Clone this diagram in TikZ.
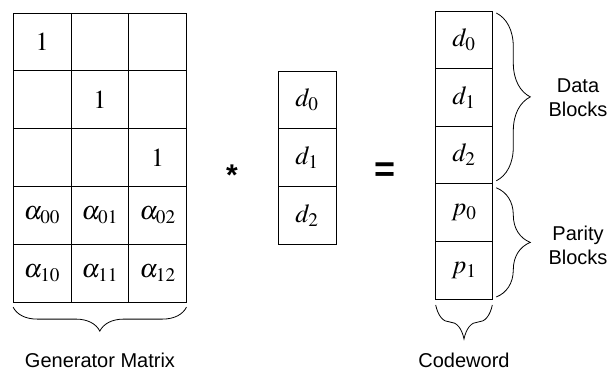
\documentclass[tikz,border=0pt]{standalone}
\usepackage{mathptmx}
\usepackage{fontspec}
\setsansfont{Liberation Sans}
\usepackage{tikz}
\usetikzlibrary{positioning, decorations.pathreplacing}

\begin{document}
\begin{tikzpicture}[x=1pt, y=-1pt, font=\fontsize{26}{30}\selectfont,
  cell/.style={draw, line width=0.8pt, minimum width=57.8pt, minimum height=57.8pt, inner sep=0pt, outer sep=0pt},
  cwcell/.style={cell, minimum width=56.6pt, minimum height=57.6pt},
  lab/.style={font=\sffamily\fontsize{20}{24}\selectfont, align=center, inner sep=0pt},
  op/.style={font=\sffamily\bfseries\fontsize{#1}{#1}\selectfont, inner sep=0pt},
  brc/.style={line width=0.8pt, decorate, decoration={brace, amplitude=#1}}]
  \useasboundingbox (0,0) rectangle (610,371);
  % generator matrix
  \foreach \val [count=\i from 0] in {1,{},{},{},1,{},{},{},1,
      \alpha_{00},\alpha_{01},\alpha_{02},\alpha_{10},\alpha_{11},\alpha_{12}}{
    \pgfmathtruncatemacro{\r}{\i/3+1}
    \pgfmathtruncatemacro{\c}{mod(\i,3)+1}
    \node[cell] (g\r\c) at (42+57.8*\c-57.8, 42+57.8*\r-57.8) {$\val$};
  }
  % data vector
  \foreach \k in {0,1,2}{
    \node[cell] (v\k) at (307, 100+57.8*\k) {$d_{\k}$};
  }
  \node[op=30] (times) at (232,175) {*};
  \node[op=36] (equals) at (385,172) {=};
  % codeword
  \foreach \val [count=\k] in {d_0,d_1,d_2,p_0,p_1}{
    \node[cwcell] (c\k) at (464, 39.8+57.6*\k-57.6) {$\val$};
  }
  % braces and labels
  \draw[brc=24] ([yshift=-5pt]g53.south east) -- ([yshift=-5pt]g51.south west);
  \node[lab, anchor=base] (gmlab) at (100,367) {Generator Matrix};
  \draw[brc=34] ([xshift=4pt,yshift=-2pt]c1.north east) -- ([xshift=4pt,yshift=3pt]c3.south east);
  \node[lab] (datalab) at (578,98) {Data\\Blocks};
  \draw[brc=34] ([xshift=4pt,yshift=-4pt]c4.north east) -- ([xshift=4pt,yshift=2pt]c5.south east);
  \node[lab] (paritylab) at (578,245) {Parity\\Blocks};
  \draw[brc=34] ([yshift=-6pt]c5.south east) -- ([yshift=-6pt]c5.south west);
  \node[lab, anchor=base] (cwlab) at (464,367) {Codeword};
\end{tikzpicture}
\end{document}
